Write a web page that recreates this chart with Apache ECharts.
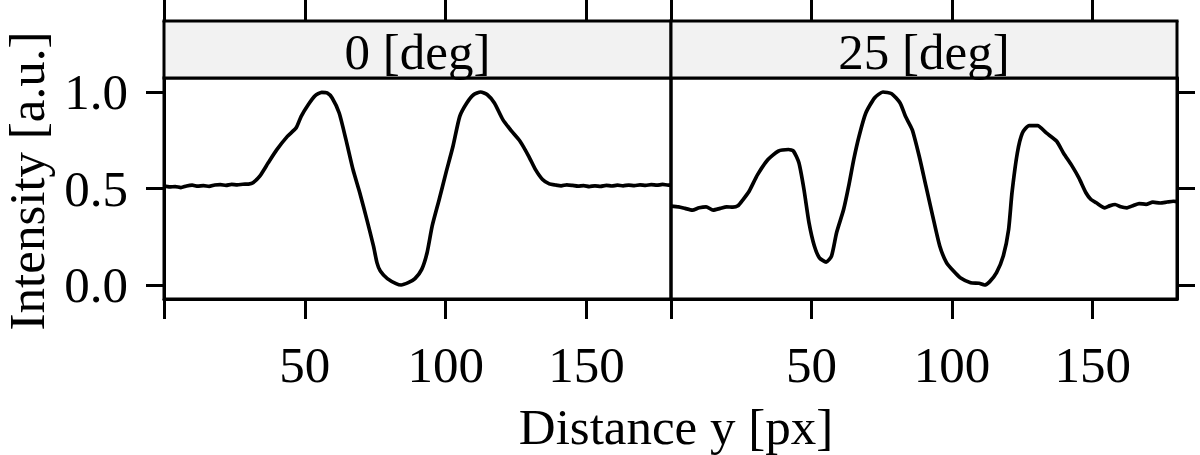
<!DOCTYPE html>
<html><head><meta charset="utf-8">
<script src="https://cdn.jsdelivr.net/npm/echarts@6/dist/echarts.min.js"></script>
<style>html,body{margin:0;padding:0;background:#fff}#c{width:1200px;height:455px}</style>
</head><body><div id="c"></div>
<script>
// ---- data ----
const panelTitles = ['0 [deg]', '25 [deg]'];
const xTicks = [0, 50, 100, 150];
const xTickLabels = [50, 100, 150];
const yTicks = [0, 0.5, 1.0];
const xLabel = 'Distance y [px]';
const yLabel = 'Intensity [a.u.]';

const x0 = [0,2,4,6,8,10,12,14,16,18,20,22,24,26,28,30,31.6,34,37,40,43.8,46.9,48.7,51.2,53.6,56,57.9,59.7,62.2,64.6,67.1,69.5,72,74.4,75.6,76.8,79.3,82.4,84.2,86.7,89.1,91.5,93.4,95.2,97.7,100.1,102.6,105,107.5,109.9,112.4,114.8,117.3,120.3,123.4,126.4,129.5,131.9,134.4,136.8,139,141,143,145,147,149,151,153,155,157,159,161,163,165,167,169,171,173,175,177,179,180];
const y0 = [0.512,0.508,0.510,0.505,0.513,0.517,0.512,0.515,0.511,0.518,0.520,0.516,0.521,0.519,0.522,0.523,0.530,0.564,0.633,0.700,0.770,0.814,0.874,0.934,0.980,0.998,0.995,0.969,0.891,0.753,0.598,0.478,0.340,0.200,0.116,0.072,0.033,0.007,0.000,0.012,0.033,0.081,0.167,0.305,0.443,0.581,0.719,0.874,0.943,0.986,1.000,0.986,0.943,0.857,0.797,0.745,0.667,0.598,0.547,0.524,0.518,0.514,0.519,0.516,0.512,0.515,0.510,0.514,0.511,0.516,0.513,0.517,0.514,0.518,0.515,0.519,0.516,0.520,0.517,0.521,0.518,0.519];

const x25 = [0,2.7,5,7.6,10,12.5,15,17.5,19.8,22,23.8,25.5,27.8,30.8,34.5,38.1,41.8,43.6,45.5,47.3,49.1,51,52.8,55.2,57.1,58.9,61.4,63.2,65,66.9,69.3,72.4,75.4,78.5,81.5,83.4,85.8,88.3,90.7,93.1,95.6,98,100.5,102.9,106.6,109.6,111.5,113.3,115.8,118.2,120.1,121.3,123.2,125,127.4,130.4,133.5,137.2,139.6,142.7,145.1,147.6,149.4,151.3,154.3,156,158,160,162.2,164.5,166.5,169,171.4,174,176.5,178.7,180];
const y25 = [0.409,0.405,0.397,0.388,0.400,0.405,0.388,0.397,0.405,0.403,0.410,0.440,0.486,0.572,0.650,0.693,0.702,0.693,0.633,0.495,0.322,0.202,0.141,0.119,0.150,0.271,0.391,0.512,0.650,0.771,0.891,0.969,1.000,0.991,0.943,0.874,0.805,0.667,0.512,0.357,0.202,0.116,0.072,0.038,0.012,0.009,0.000,0.016,0.064,0.150,0.288,0.478,0.684,0.788,0.826,0.826,0.788,0.745,0.684,0.616,0.555,0.478,0.443,0.426,0.400,0.410,0.417,0.405,0.400,0.412,0.422,0.418,0.429,0.425,0.430,0.434,0.432];

// ---- layout ----
const FONT = 'Liberation Serif';
const FS = 51;
const panels = [
  {left: 164, width: 507},
  {left: 671, width: 506}
];
const gridTop = 78, gridH = 221, stripTop = 21;
const black = '#000';

const lineSty = {color: black, width: 3};
const xAxes = [], yAxes = [], grids = [], graphics = [];
panels.forEach((p, i) => {
  grids.push({left: p.left, top: gridTop, width: p.width, height: gridH, show: true,
    borderColor: black, borderWidth: 3, backgroundColor: 'transparent'});
  xAxes.push({type: 'value', gridIndex: i, min: 0, max: 180, position: 'bottom',
    axisLine: {show: true, onZero: false, lineStyle: lineSty},
    axisTick: {show: true, length: 20, lineStyle: lineSty, customValues: xTicks},
    axisLabel: {show: true, customValues: xTickLabels, margin: 40, color: black,
      fontFamily: FONT, fontSize: FS},
    splitLine: {show: false}});
  xAxes.push({type: 'value', gridIndex: i, min: 0, max: 180, position: 'top',
    offset: gridTop - stripTop,
    axisLine: {show: true, onZero: false, lineStyle: lineSty},
    axisTick: {show: true, length: 21, lineStyle: lineSty, customValues: xTicks},
    axisLabel: {show: false},
    splitLine: {show: false}});
  yAxes.push({type: 'value', gridIndex: i, min: -0.0725, max: 1.0725,
    position: i === 0 ? 'left' : 'right',
    axisLine: {show: true, onZero: false, lineStyle: lineSty},
    axisTick: {show: true, length: 18, lineStyle: lineSty, customValues: yTicks},
    axisLabel: {show: i === 0, customValues: yTicks, margin: 36, color: black,
      fontFamily: FONT, fontSize: FS, formatter: v => Number(v).toFixed(1)},
    splitLine: {show: false}});
  graphics.push({type: 'rect', z: 1,
    shape: {x: p.left, y: stripTop, width: p.width, height: gridTop - stripTop},
    style: {fill: '#f2f2f2', stroke: black, lineWidth: 3}});
  graphics.push({type: 'text', z: 2, x: p.left + p.width / 2, y: 52,
    style: {text: panelTitles[i], fontFamily: FONT, fontSize: FS, fill: black,
      align: 'center', verticalAlign: 'middle'}});
});
graphics.push({type: 'text', x: 676, y: 427,
  style: {text: xLabel, fontFamily: FONT, fontSize: FS, fill: black, align: 'center', verticalAlign: 'middle'}});
graphics.push({type: 'text', x: 27, y: 181, rotation: Math.PI / 2,
  style: {text: yLabel, fontFamily: FONT, fontSize: FS, fill: black, align: 'center', verticalAlign: 'middle'}});

const chart = echarts.init(document.getElementById('c'), null, {renderer: 'svg'});
chart.setOption({
  animation: false,
  backgroundColor: '#fff',
  grid: grids,
  xAxis: xAxes,
  yAxis: yAxes,
  graphic: graphics,
  series: [
    {type: 'line', xAxisIndex: 0, yAxisIndex: 0, data: x0.map((x, k) => [x, y0[k]]),
      showSymbol: false, smooth: 0.2, lineStyle: {color: black, width: 3.7}, clip: true},
    {type: 'line', xAxisIndex: 2, yAxisIndex: 1, data: x25.map((x, k) => [x, y25[k]]),
      showSymbol: false, smooth: 0.2, lineStyle: {color: black, width: 3.7}, clip: true}
  ]
});
</script>
</body></html>
